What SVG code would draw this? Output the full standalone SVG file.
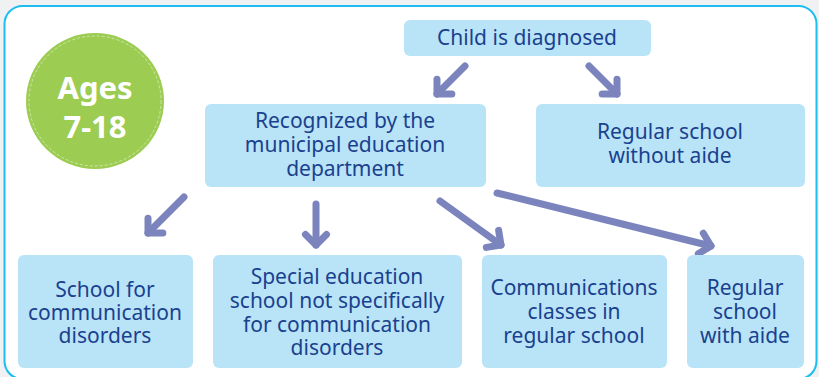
<svg xmlns="http://www.w3.org/2000/svg" width="819" height="377" viewBox="0 0 819 377">
<defs>
<style>
.box{fill:#b9e4f8}
.t{font-family:"Noto Sans","Open Sans",sans-serif;font-size:21px;fill:#1a418e;text-anchor:middle}
.a{fill:none;stroke:#7b84bd;stroke-width:7;stroke-linecap:round;stroke-linejoin:round}
.ages{font-family:"Noto Sans","Open Sans",sans-serif;font-size:31px;font-weight:bold;fill:#ffffff;text-anchor:middle}
</style>
<marker id="chev" markerUnits="userSpaceOnUse" markerWidth="40" markerHeight="40" refX="0" refY="0" orient="auto" overflow="visible">
<path d="M -10.5,-10.5 L 0,0 L -10.5,10.5" fill="none" stroke="#7b84bd" stroke-width="7" stroke-linecap="round" stroke-linejoin="round"/>
</marker>
</defs>
<rect x="0" y="0" width="819" height="377" fill="#f0f1f3"/>
<rect x="4.5" y="6" width="812" height="373" rx="18" fill="#ffffff" stroke="#1cbdef" stroke-width="2"/>

<g id="ages">
<ellipse cx="95" cy="101" rx="69" ry="68" fill="#9dcc52"/>
<ellipse cx="95" cy="101" rx="66" ry="65" fill="none" stroke="#d8ecbc" stroke-width="0.8" stroke-dasharray="3 2"/>
<text class="ages" x="95" y="99">Ages</text>
<text class="ages" x="95" y="138">7-18</text>
</g>

<g id="connectors">
<path class="a" d="M 465,66 L 437,94" marker-end="url(#chev)"/>
<path class="a" d="M 589,66 L 617,94" marker-end="url(#chev)"/>
<path class="a" d="M 184,197 L 148,233" marker-end="url(#chev)"/>
<path class="a" d="M 316,204 L 316,245" marker-end="url(#chev)"/>
<path class="a" d="M 440,201 L 501,245" marker-end="url(#chev)"/>
<path class="a" d="M 497,193 L 711,246" marker-end="url(#chev)"/>
</g>

<g id="diagnosed">
<rect class="box" x="404" y="20" width="247" height="36" rx="6"/>
<text class="t" x="527" y="45">Child is diagnosed</text>
</g>

<g id="recognized">
<rect class="box" x="205" y="104" width="281" height="83" rx="6"/>
<text class="t" x="345" y="128">Recognized by the</text>
<text class="t" x="345" y="152">municipal education</text>
<text class="t" x="345" y="176">department</text>
</g>

<g id="regular-without">
<rect class="box" x="536" y="104" width="269" height="83" rx="6"/>
<text class="t" x="670" y="139">Regular school</text>
<text class="t" x="670" y="163">without aide</text>
</g>

<g id="school-comm">
<rect class="box" x="18" y="255" width="175" height="113" rx="6"/>
<text class="t" x="105" y="297">School for</text>
<text class="t" x="105" y="320">communication</text>
<text class="t" x="105" y="343">disorders</text>
</g>

<g id="special-ed">
<rect class="box" x="213" y="255" width="249" height="113" rx="6"/>
<text class="t" x="337" y="284">Special education</text>
<text class="t" x="337" y="308">school not specifically</text>
<text class="t" x="337" y="332">for communication</text>
<text class="t" x="337" y="355">disorders</text>
</g>

<g id="comm-classes">
<rect class="box" x="482" y="255" width="185" height="113" rx="6"/>
<text class="t" x="574" y="295">Communications</text>
<text class="t" x="574" y="319">classes in</text>
<text class="t" x="574" y="343">regular school</text>
</g>

<g id="regular-with">
<rect class="box" x="687" y="255" width="117" height="113" rx="6"/>
<text class="t" x="745" y="295">Regular</text>
<text class="t" x="745" y="319">school</text>
<text class="t" x="745" y="343">with aide</text>
</g>
</svg>
